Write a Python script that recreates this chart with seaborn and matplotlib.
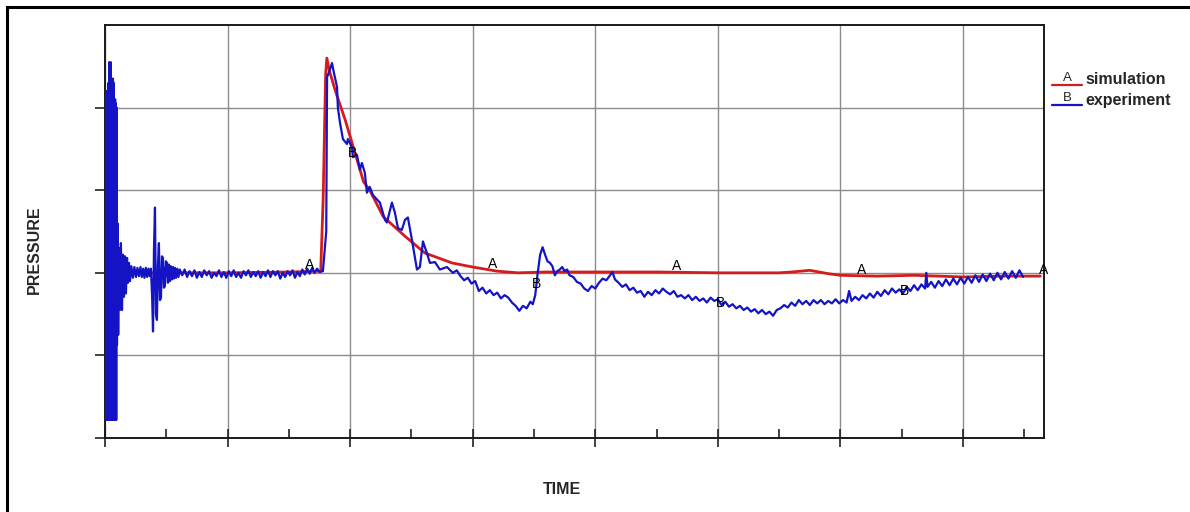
import numpy as np
import pandas as pd
import matplotlib
matplotlib.use('Agg')
import matplotlib.pyplot as plt
from matplotlib.lines import Line2D
from matplotlib.patches import Rectangle
import seaborn as sns

# simulation curve (red)
sim_time = [0, 1.0, 1.5, 1.76, 1.78, 1.80, 1.81, 1.83, 1.88, 1.96, 2.0, 2.11, 2.16, 2.27,
            2.45, 2.61, 2.83, 3.0, 3.2, 3.37, 3.6, 4.0, 4.5, 5.0, 5.5, 5.6, 5.75, 5.9,
            6.0, 6.3, 6.6, 7.0, 7.3, 7.63]
sim_pressure = [0, 0, 0.01, 0.02, 0.9, 2.4, 2.6, 2.45, 2.2, 1.85, 1.65, 1.1, 1.0, 0.68,
                0.44, 0.24, 0.12, 0.07, 0.02, 0.0, 0.01, 0.01, 0.01, 0.0, 0.0, 0.01, 0.03, -0.01,
                -0.03, -0.04, -0.03, -0.05, -0.04, -0.04]

exp_t_burst = [0.005, 0.008, 0.011, 0.014, 0.017, 0.020, 0.023, 0.026, 0.029, 0.032,
               0.035, 0.038, 0.041, 0.044, 0.047, 0.050, 0.053, 0.056, 0.059, 0.062,
               0.065, 0.068, 0.071, 0.074, 0.077, 0.080, 0.083, 0.086, 0.089, 0.092, 0.095]
exp_p_burst = [2.2, -1.78, 2.2, -1.78, 2.2, -1.78, 2.2, -1.78, 2.3, -1.78,
               2.55, -1.78, 2.5, -1.78, 2.55, -1.78, 2.35, -1.78, 2.35, -1.78,
               2.35, -1.78, 2.3, -1.78, 2.1, -1.78, 2.1, -1.78, 2.05, -1.78, 2.0]

exp_t_ring = [0.098, 0.102, 0.108, 0.114, 0.122, 0.130, 0.139, 0.147, 0.155, 0.163,
              0.171, 0.18, 0.188, 0.196, 0.204, 0.215, 0.228, 0.24, 0.253, 0.265,
              0.277, 0.29, 0.30, 0.312, 0.322, 0.334, 0.344, 0.355, 0.365, 0.375,
              0.385, 0.392, 0.40, 0.408, 0.416, 0.424, 0.432, 0.44, 0.449, 0.457,
              0.465, 0.473, 0.481, 0.489, 0.497, 0.506, 0.514, 0.522, 0.53, 0.538,
              0.546, 0.555, 0.563, 0.571, 0.58, 0.59, 0.60, 0.61]
exp_p_ring = [-0.87, 0.6, -0.75, 0.3, -0.45, 0.36, -0.45, 0.22, -0.29, 0.20,
              -0.25, 0.18, -0.12, 0.12, -0.10, 0.08, -0.06, 0.07, -0.05, 0.06,
              -0.04, 0.07, -0.05, 0.05, -0.06, 0.06, -0.05, 0.05, -0.04, 0.05,
              -0.3, -0.71, 0.3, 0.79, -0.5, -0.57, 0.1, 0.36, -0.33, -0.3,
              0.2, 0.18, -0.18, -0.16, 0.14, 0.12, -0.12, 0.10, -0.10, 0.08,
              -0.08, 0.07, -0.07, 0.06, -0.06, 0.05, -0.05, 0.04]

exp_t_flat = [0.63, 0.65, 0.67, 0.69, 0.71, 0.73, 0.75, 0.77, 0.79, 0.81, 0.83, 0.85,
              0.87, 0.89, 0.91, 0.93, 0.95, 0.97, 0.99, 1.01, 1.03, 1.05, 1.07, 1.09,
              1.11, 1.13, 1.15, 1.17, 1.19, 1.21, 1.23, 1.25, 1.27, 1.29, 1.31, 1.33,
              1.35, 1.37, 1.39, 1.41, 1.43, 1.45, 1.47, 1.49, 1.51, 1.53, 1.55, 1.57,
              1.59, 1.61, 1.63, 1.65, 1.67, 1.69, 1.71, 1.73, 1.75]
exp_p_flat = [-0.03, 0.04, -0.05, 0.02, -0.04, 0.03, -0.06, 0.01, -0.05, 0.03, -0.03, 0.02,
              -0.06, 0.00, -0.04, 0.03, -0.05, 0.01, -0.06, 0.02, -0.04, 0.03, -0.05, 0.00,
              -0.06, 0.02, -0.03, 0.03, -0.05, 0.01, -0.04, 0.02, -0.06, 0.01, -0.04, 0.03,
              -0.05, 0.02, -0.03, 0.02, -0.07, 0.00, -0.05, 0.02, -0.03, 0.03, -0.06, 0.01,
              -0.04, 0.04, -0.02, 0.05, -0.01, 0.06, 0.00, 0.05, 0.01]

exp_t_pulse = [1.778, 1.794, 1.805, 1.812, 1.835, 1.852, 1.868, 1.893, 1.90, 1.917,
               1.941, 1.974, 1.982, 2.015, 2.023, 2.055, 2.08, 2.096, 2.12, 2.137,
               2.16, 2.186, 2.243, 2.284, 2.30, 2.341, 2.365, 2.39, 2.422, 2.447,
               2.471, 2.504, 2.545, 2.569, 2.594, 2.626, 2.651, 2.692, 2.732, 2.79,
               2.838, 2.87]
exp_p_pulse = [0.02, 0.3, 0.5, 2.37, 2.46, 2.54, 2.42, 2.25, 2.0, 1.82,
               1.62, 1.56, 1.62, 1.52, 1.40, 1.43, 1.25, 1.33, 1.21, 0.97,
               1.04, 0.94, 0.85, 0.64, 0.61, 0.85, 0.73, 0.54, 0.52, 0.64,
               0.67, 0.40, 0.04, 0.07, 0.38, 0.24, 0.12, 0.13, 0.04, 0.07,
               0.0, 0.03]

exp_t_tail = [2.90, 2.93, 2.96, 2.99, 3.02, 3.05, 3.08, 3.11, 3.14, 3.17, 3.20, 3.23,
              3.26, 3.29, 3.32, 3.35, 3.38, 3.41, 3.44, 3.47, 3.49, 3.51, 3.53, 3.55,
              3.57, 3.59, 3.61, 3.63, 3.65, 3.67, 3.69, 3.71, 3.73, 3.75, 3.77, 3.79,
              3.82, 3.85, 3.88, 3.91, 3.94, 3.97, 4.00, 4.03, 4.06, 4.09, 4.12, 4.14,
              4.16, 4.19, 4.22, 4.25, 4.28, 4.31, 4.34, 4.37, 4.40, 4.43, 4.46, 4.49,
              4.52, 4.55, 4.58, 4.61, 4.64, 4.67, 4.70, 4.73, 4.76, 4.79, 4.82, 4.85,
              4.88, 4.91, 4.94, 4.97, 5.00, 5.03, 5.06, 5.09, 5.12, 5.15, 5.18, 5.21,
              5.24, 5.27, 5.30, 5.33, 5.36, 5.39, 5.42, 5.45, 5.48, 5.51, 5.54, 5.57,
              5.60, 5.63, 5.66, 5.69, 5.72, 5.75, 5.78, 5.81, 5.84, 5.87, 5.90, 5.93,
              5.96, 5.99, 6.02, 6.05, 6.07, 6.09, 6.12, 6.15, 6.18, 6.21, 6.24, 6.27,
              6.30, 6.33, 6.36, 6.39, 6.42, 6.45, 6.48, 6.51, 6.54, 6.57, 6.60, 6.63,
              6.66, 6.69, 6.70, 6.71, 6.74, 6.77, 6.80, 6.83, 6.86, 6.89, 6.92, 6.95,
              6.98, 7.01, 7.04, 7.07, 7.10, 7.13, 7.16, 7.19, 7.22, 7.25, 7.28, 7.31,
              7.34, 7.37, 7.40, 7.43, 7.46, 7.49]
exp_p_tail = [-0.04, -0.09, -0.06, -0.13, -0.10, -0.22, -0.18, -0.25, -0.21, -0.27, -0.24, -0.31,
              -0.27, -0.30, -0.36, -0.40, -0.46, -0.40, -0.43, -0.35, -0.38, -0.27, 0.0, 0.22,
              0.31, 0.22, 0.14, 0.12, 0.08, -0.03, 0.02, 0.04, 0.07, 0.02, 0.04, -0.03,
              -0.05, -0.11, -0.13, -0.19, -0.22, -0.16, -0.19, -0.12, -0.07, -0.09, -0.03, 0.01,
              -0.08, -0.12, -0.17, -0.14, -0.21, -0.18, -0.24, -0.22, -0.29, -0.23, -0.27, -0.21,
              -0.25, -0.19, -0.23, -0.26, -0.22, -0.29, -0.27, -0.31, -0.27, -0.33, -0.29, -0.34,
              -0.31, -0.36, -0.30, -0.34, -0.32, -0.39, -0.35, -0.41, -0.38, -0.43, -0.40, -0.45,
              -0.42, -0.47, -0.44, -0.49, -0.45, -0.50, -0.47, -0.52, -0.45, -0.43, -0.39, -0.42,
              -0.36, -0.40, -0.33, -0.38, -0.34, -0.39, -0.33, -0.37, -0.33, -0.38, -0.34, -0.37,
              -0.32, -0.37, -0.33, -0.36, -0.22, -0.34, -0.29, -0.33, -0.27, -0.31, -0.25, -0.30,
              -0.23, -0.28, -0.21, -0.26, -0.19, -0.24, -0.20, -0.25, -0.17, -0.22, -0.15, -0.21,
              -0.14, -0.19, 0.0, -0.17, -0.11, -0.18, -0.10, -0.16, -0.08, -0.15, -0.07, -0.14,
              -0.06, -0.13, -0.05, -0.12, -0.03, -0.11, -0.02, -0.10, -0.01, -0.09, 0.00, -0.08,
              0.01, -0.07, 0.02, -0.06, 0.03, -0.05]

# curve letters
sim_letter_t = [1.67, 3.165, 4.665, 6.17, 7.66]
exp_letter_t = [0.51, 2.02, 3.52, 5.02, 6.52]

exp_time = exp_t_burst + exp_t_ring + exp_t_flat + exp_t_pulse + exp_t_tail
exp_pressure = exp_p_burst + exp_p_ring + exp_p_flat + exp_p_pulse + exp_p_tail

sim = pd.DataFrame({'time': sim_time, 'pressure': sim_pressure})
exp = pd.DataFrame({'time': exp_time, 'pressure': exp_pressure})

sns.set_theme(style='whitegrid')
plt.rcParams['font.family'] = ['Liberation Sans', 'DejaVu Sans']

red = '#d41c1c'
blue = '#1414c4'

fig = plt.figure(figsize=(11.9, 5.12), dpi=100)
ax = fig.add_axes([0.0882, 0.1445, 0.7891, 0.8066])
ax.set_facecolor('white')

sns.lineplot(data=sim, x='time', y='pressure', color=red, lw=2.0, sort=False,
             estimator=None, ax=ax, zorder=3)
sns.lineplot(data=exp, x='time', y='pressure', color=blue, lw=1.6, sort=False,
             estimator=None, ax=ax, zorder=4)

for t in sim_letter_t:
    ax.text(t, np.interp(t, sim_time, sim_pressure) - 0.01, 'A', ha='center', va='bottom',
            fontsize=10, color='black', zorder=6, clip_on=False)
for i, t in enumerate(exp_letter_t):
    # the first B sits inside the noisy part and is mostly covered
    ax.text(t, np.interp(t, exp_time, exp_pressure), 'B', ha='center', va='center',
            fontsize=10, color='black', zorder=2 if i == 0 else 6)

ax.set_xlim(0, 7.66)
ax.set_ylim(-2, 3)
ax.set_xticks(range(0, 8))
ax.set_xticks([i + 0.5 for i in range(8)], minor=True)
ax.set_yticks([-2, -1, 0, 1, 2])
ax.grid(True, which='major', color='#8c8c8c', lw=1.0)
ax.grid(False, which='minor')
ax.tick_params(axis='x', which='major', direction='inout', length=13.5, width=1.2,
               color='#222222', bottom=True, labelbottom=False)
ax.tick_params(axis='x', which='minor', direction='in', length=6.5, width=1.2,
               color='#222222', bottom=True)
ax.tick_params(axis='y', which='major', direction='out', length=7, width=1.2,
               color='#222222', left=True, labelleft=False)
for s in ax.spines.values():
    s.set_visible(True)
    s.set_color('#1a1a1a')
    s.set_linewidth(1.4)

ax.set_xlabel('')
ax.set_ylabel('')
fig.text(0.472, 0.043, 'TIME', ha='center', va='center', fontsize=11.5, fontweight='bold')
fig.text(0.029, 0.512, 'PRESSURE', ha='center', va='center', rotation=90,
         fontsize=11.5, fontweight='bold')

# legend: line with its letter above, then the name
W, H = 1190.0, 512.0
for py, col, letter, name in [(85, red, 'A', 'simulation'), (105, blue, 'B', 'experiment')]:
    fy = 1 - py / H
    fig.add_artist(Line2D([1052 / W, 1082 / W], [fy, fy], color=col, lw=1.6))
    fig.text(1067 / W, fy + 1.0 / H, letter, ha='center', va='bottom', fontsize=9.5)
    fig.text(1085 / W, 1 - (py - 5) / H, name, ha='left', va='center',
             fontsize=11.5, fontweight='bold')

# outer frame of the picture
fig.add_artist(Rectangle((7 / W, -0.1), 1.2, 1.1 - 7 / H, transform=fig.transFigure,
                         fill=False, edgecolor='black', lw=2.2))

fig.savefig('out.png', dpi=100)
